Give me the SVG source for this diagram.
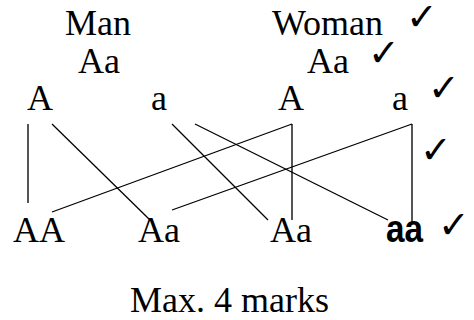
<svg xmlns="http://www.w3.org/2000/svg" width="474" height="320" viewBox="0 0 474 320">
<style>
.t{font-family:'Liberation Serif','Times New Roman',serif;font-size:36px;fill:#000}
.b{font-family:'Liberation Sans',Arial,sans-serif;font-size:38px;font-weight:bold;fill:#000}
.ck{font-family:'DejaVu Sans',sans-serif;font-size:38px;font-weight:bold;fill:#000}
.v{stroke:#555;stroke-width:2;fill:none}
.l{stroke:#000;stroke-width:1.3;fill:none}
</style>
<rect width="474" height="320" fill="#fff"/>
<g id="connectors">
<line class="v" x1="28" y1="124" x2="28" y2="203"/>
<line class="v" x1="292" y1="124" x2="292" y2="220"/>
<line class="v" x1="412" y1="124" x2="412" y2="222"/>
<line class="l" x1="52" y1="124" x2="150" y2="220"/>
<line class="l" x1="172" y1="124" x2="268" y2="220"/>
<line class="l" x1="195" y1="124" x2="388" y2="220"/>
<line class="l" x1="292" y1="124" x2="52" y2="212"/>
<line class="l" x1="412" y1="124" x2="172" y2="210"/>
</g>
<g id="man"><text class="t" x="65" y="35">Man</text></g>
<g id="woman"><text class="t" x="272" y="35">Woman</text></g>
<g id="man-genotype"><text class="t" x="78" y="73">Aa</text></g>
<g id="woman-genotype"><text class="t" x="307" y="73">Aa</text></g>
<g id="man-A"><text class="t" x="27" y="110">A</text></g>
<g id="man-a"><text class="t" x="151" y="110">a</text></g>
<g id="woman-A"><text class="t" x="278" y="110">A</text></g>
<g id="woman-a"><text class="t" x="392" y="110">a</text></g>
<g id="AA"><text class="t" x="13" y="242">AA</text></g>
<g id="Aa1"><text class="t" x="138" y="242">Aa</text></g>
<g id="Aa2"><text class="t" x="270" y="242">Aa</text></g>
<g id="aa"><text class="b" x="386" y="242" textLength="37" lengthAdjust="spacingAndGlyphs">aa</text></g>
<g id="checks">
<text class="ck" x="406" y="30">✓</text>
<text class="ck" x="368" y="66">✓</text>
<text class="ck" x="428" y="101">✓</text>
<text class="ck" x="420" y="163">✓</text>
<text class="ck" x="438" y="238">✓</text>
</g>
<g id="footer"><text class="t" x="130" y="312">Max. 4 marks</text></g>
</svg>
